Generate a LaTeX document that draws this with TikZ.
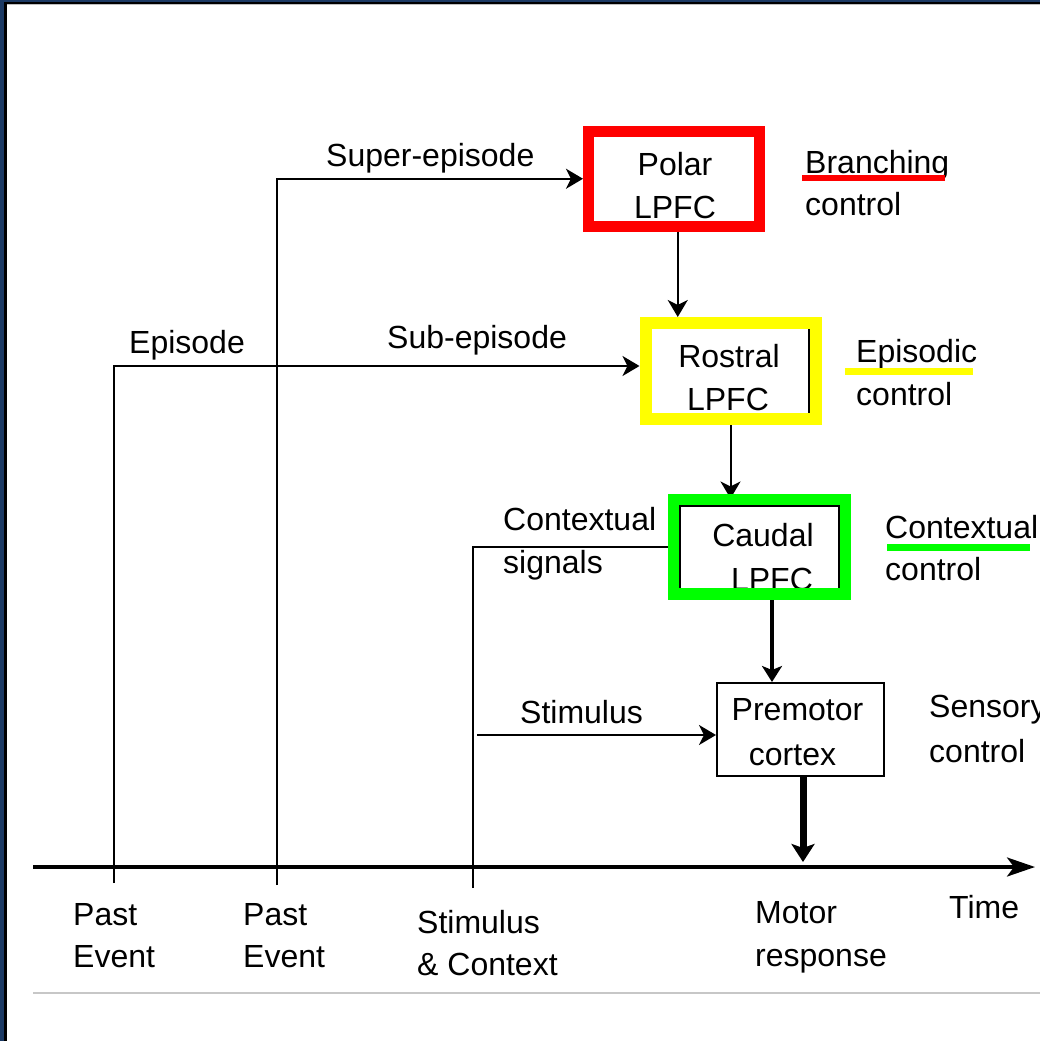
\documentclass[tikz,border=0pt]{standalone}
\usepackage{fontspec}
\setmainfont{Liberation Sans}
\usetikzlibrary{arrows.meta,backgrounds}
\definecolor{navy}{HTML}{1C3A64}
\definecolor{pure red}{HTML}{FF0000}
\definecolor{pure yellow}{HTML}{FFFF00}
\definecolor{pure green}{HTML}{00FF00}
\begin{document}
\begin{tikzpicture}[x=1pt,y=-1pt,
  txt/.style={font=\fontsize{32}{38}\selectfont, inner sep=0pt, anchor=base west},
  ctxt/.style={font=\fontsize{32}{38}\selectfont, inner sep=0pt, anchor=base},
  areabox/.style={draw, rectangle, inner sep=0pt},
  thinline/.style={line width=2pt},
  arr/.style={thinline, -{Stealth[length=17pt,width=20pt,inset=5pt]}},
  underl/.style={line width=6pt},
]
\useasboundingbox (0,0) rectangle (1040,1041);

% ---- text inside boxes (drawn before the boxes so borders overlap) ----
\node[ctxt] (polar1) at (675,175) {Polar};
\node[ctxt] (polar2) at (675,218) {LPFC};
\node[ctxt] (rost1) at (729,367) {Rostral};
\node[ctxt] (rost2) at (728,410) {LPFC};
\node[ctxt] (caud1) at (763,546) {Caudal};
\node[ctxt] (caud2) at (772,590) {LPFC};
\node[ctxt] (prem1) at (797.5,720) {Premotor};
\node[ctxt] (prem2) at (792.5,765) {cortex};

% ---- boxes ----
\node[areabox, draw=pure red, line width=11pt, minimum width=170.5pt, minimum height=95.5pt] (polar) at (673.75,178.75) {};
\node[areabox, draw=pure yellow, line width=12pt, minimum width=170pt, minimum height=95.5pt] (rostral) at (730.5,370.75) {};
\node[areabox, draw=pure green, line width=12pt, minimum width=171pt, minimum height=94.5pt] (caudal) at (759.5,546.75) {};
\node[areabox, draw=black, line width=2pt, minimum width=167pt, minimum height=93pt] (premotor) at (800.5,729.5) {};
\draw[line width=1.5pt] (809,329) -- (809,413);
\draw[line width=2pt] (680,588) -- (680,506) -- (839,506) -- (839,588);

% ---- side labels ----
\node[txt] (branch) at (805,173) {Branching};
\node[txt] (branchc) at (805,215) {control};
\node[txt] (episod) at (856,362) {Episodic};
\node[txt] (episodc) at (856,405) {control};
\node[txt] (context) at (885,538) {Contextual};
\node[txt] (contextc) at (885,580) {control};
\node[txt] (sensory) at (929,717) {Sensory};
\node[txt] (sensoryc) at (929,762) {control};
\draw[underl, pure red] (802,178) -- (945,178);
\draw[underl, line width=7pt, pure yellow] (845,371) -- (973,371);
\draw[underl, line width=7pt, pure green] (887,547) -- (1030,547);

% ---- connector labels ----
\node[txt] (superl) at (326,166) {Super-episode};
\node[txt] (episl) at (129,353) {Episode};
\node[txt] (subl) at (387,348) {Sub-episode};
\node[txt] (ctxl1) at (503,530) {Contextual};
\node[txt] (ctxl2) at (503,573) {signals};
\node[txt] (stiml) at (520,723) {Stimulus};

% ---- time axis labels ----
\node[txt] (past1a) at (73,925) {Past};
\node[txt] (past1b) at (73,967) {Event};
\node[txt] (past2a) at (243,925) {Past};
\node[txt] (past2b) at (243,967) {Event};
\node[txt] (stca) at (417,933) {Stimulus};
\node[txt] (stcb) at (417,975) {\& Context};
\node[txt] (mota) at (755,923) {Motor};
\node[txt] (motb) at (755,966) {response};
\node[txt] (timel) at (949,918) {Time};

% ---- coordinates ----
\coordinate (pe1) at (114,883);
\coordinate (pe1c) at (114,366);
\coordinate (pe2) at (277,885);
\coordinate (sc) at (473,888);
\coordinate (stim) at (477,735);
\coordinate (axL) at (33,867);
\coordinate (axR) at (1035,867);

\begin{pgfonlayer}{background}
  % page background and frame
  \fill[white] (0,0) rectangle (1040,1041);
  \fill[navy] (0,0) rectangle (1040,2);
  \fill[navy] (0,0) rectangle (4,1041);
  \fill[black] (4,2) rectangle (1040,4);
  \fill[black] (4,2) rectangle (7,1041);
  \fill[black!25] (7,4) rectangle (1040,5);
  \draw[black!22, line width=1.5pt] (33,993) -- (1040,993);

  % connectors
  \draw[arr] (pe1) -- (pe1c) -- (pe1c -| rostral.west);
  \draw[arr] (pe2) |- (polar.west);
  \draw[thinline] (sc) |- (caudal.west);
  \draw[arr] (stim) -- (stim -| premotor.west);
  \draw[arr] ([xshift=4pt]polar.south) -- ([xshift=4pt]polar.south |- rostral.north);
  \draw[arr, shorten >=-5pt] (rostral.south) -- (rostral.south |- caudal.north);
  \draw[line width=4pt, -{Stealth[length=16pt,width=20pt,inset=4pt]}]
     ([xshift=12.5pt]caudal.south) -- ([xshift=12.5pt]caudal.south |- premotor.north);
  \draw[line width=3.5pt, -{Stealth[length=28pt,width=19pt,inset=7pt]}] (axL) -- (axR);
  \draw[line width=7pt, -{Stealth[length=18pt,width=23pt,inset=4pt]}, shorten >=5pt]
     ([xshift=2.5pt]premotor.south) -- ([xshift=2.5pt]premotor.south |- axL);
\end{pgfonlayer}
\end{tikzpicture}
\end{document}
